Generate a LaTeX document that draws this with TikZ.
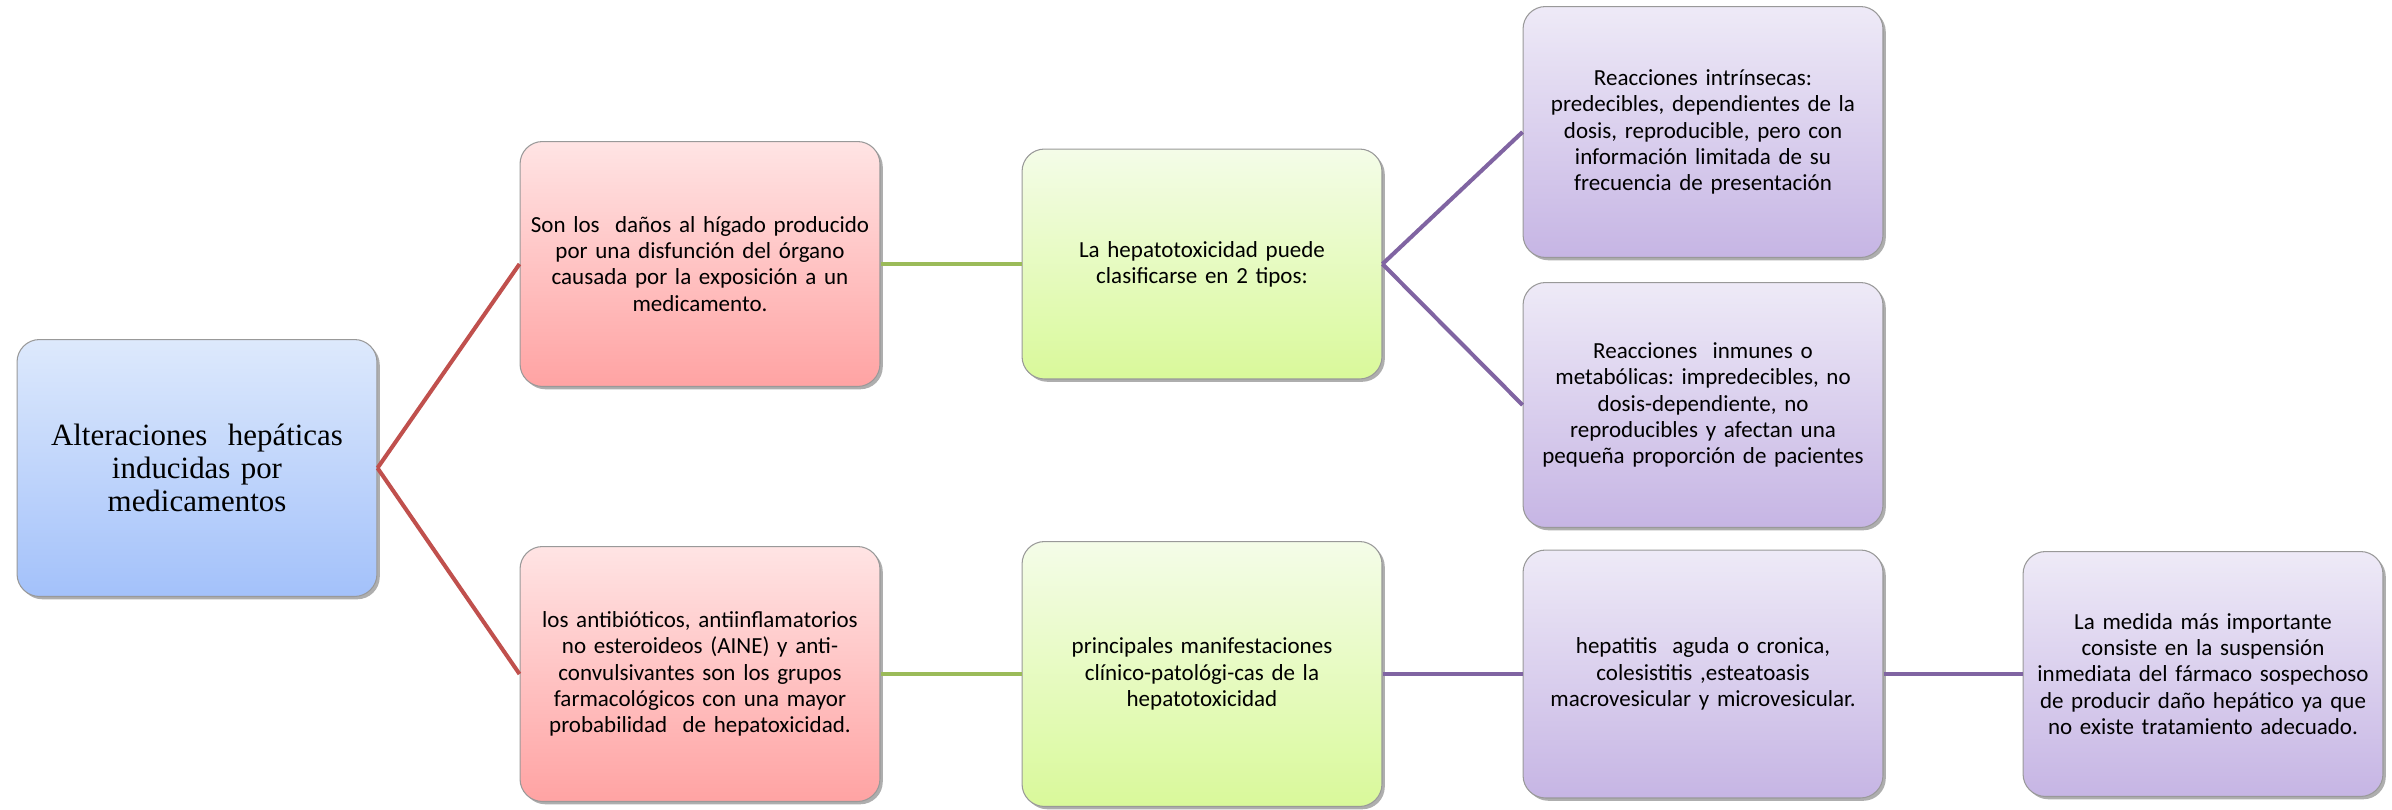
\documentclass[tikz,border=0pt]{standalone}
\usepackage{fontspec}
\setmainfont{Carlito}
\newfontfamily\rootfont{Liberation Serif}
\usetikzlibrary{shadows}
\frenchspacing

\definecolor{rootTop}{HTML}{DDE9FC}
\definecolor{rootBot}{HTML}{A3C1FA}
\definecolor{redTop}{HTML}{FFE4E4}
\definecolor{redBot}{HTML}{FFA3A3}
\definecolor{greenTop}{HTML}{F4FCE8}
\definecolor{greenBot}{HTML}{D9F99A}
\definecolor{purpleTop}{HTML}{EEEAF7}
\definecolor{purpleBot}{HTML}{C6B5E4}
\definecolor{redLine}{HTML}{C0504D}
\definecolor{greenLine}{HTML}{9BBB59}
\definecolor{purpleLine}{HTML}{8064A2}

\tikzset{
  box/.style={draw=gray!80, line width=0.6pt, rounded corners=0.45cm,
    minimum width=7.2cm, text width=7.1cm, align=center, inner sep=0pt,
    font=\fontsize{13.1}{14.9}\selectfont,
    drop shadow={shadow xshift=1.6pt, shadow yshift=-1.6pt, opacity=0.45, fill=black!70}},
  rootbox/.style={box, top color=rootTop, bottom color=rootBot,
    font=\rootfont\fontsize{17.6}{18.6}\selectfont},
  redbox/.style={box, top color=redTop, bottom color=redBot},
  greenbox/.style={box, top color=greenTop, bottom color=greenBot},
  purplebox/.style={box, top color=purpleTop, bottom color=purpleBot},
  link/.style={line width=2.3pt}
}

\begin{document}
\begin{tikzpicture}[x=0.02cm, y=-0.02cm]
  \useasboundingbox (0,0) rectangle (2392,809);

  % Boxes
  \node[rootbox, minimum height=5.14cm] (root) at (197,468)
    {Alteraciones~ hepáticas\\ inducidas por\\ medicamentos};
  \node[redbox, minimum height=4.9cm] (danos) at (700,264)
    {Son los~ daños al hígado producido\\ por una disfunción del órgano\\ causada por la exposición a un\\ medicamento.};
  \node[redbox, minimum height=5.1cm] (grupos) at (700,674)
    {los antibióticos, antiinflamatorios\\ no esteroideos (AINE) y anti-\\ convulsivantes son los grupos\\ farmacológicos con una mayor\\ probabilidad~ de hepatoxicidad.};
  \node[greenbox, minimum height=4.6cm] (tipos) at (1202,264)
    {La hepatotoxicidad puede\\ clasificarse en 2 tipos:};
  \node[greenbox, minimum height=5.3cm] (manif) at (1202,674)
    {principales manifestaciones\\ clínico-patológi-cas de la\\ hepatotoxicidad};
  \node[purplebox, minimum height=5.02cm] (intrin) at (1703,132)
    {Reacciones intrínsecas:\\ predecibles, dependientes de la\\ dosis, reproducible, pero con\\ información limitada de su\\ frecuencia de presentación};
  \node[purplebox, minimum height=4.9cm] (inmune) at (1703,405)
    {Reacciones~ inmunes o\\ metabólicas: impredecibles, no\\ dosis-dependiente, no\\ reproducibles y afectan una\\ pequeña proporción de pacientes};
  \node[purplebox, minimum height=4.96cm] (hepat) at (1703,674)
    {hepatitis~ aguda o cronica,\\ colesistitis ,esteatoasis\\ macrovesicular y microvesicular.};
  \node[purplebox, minimum height=4.9cm] (medida) at (2203,674)
    {La medida más importante\\ consiste en la suspensión\\ inmediata del fármaco sospechoso\\ de producir daño hepático ya que\\ no existe tratamiento adecuado.};

  % Lines
  \draw[link, redLine] (root.east) -- (danos.west);
  \draw[link, redLine] (root.east) -- (grupos.west);
  \draw[link, greenLine] (danos.east) -- (tipos.west);
  \draw[link, greenLine] (grupos.east) -- (manif.west);
  \draw[link, purpleLine] (tipos.east) -- (intrin.west);
  \draw[link, purpleLine] (tipos.east) -- (inmune.west);
  \draw[link, purpleLine] (manif.east) -- (hepat.west);
  \draw[link, purpleLine] (hepat.east) -- (medida.west);
\end{tikzpicture}
\end{document}
